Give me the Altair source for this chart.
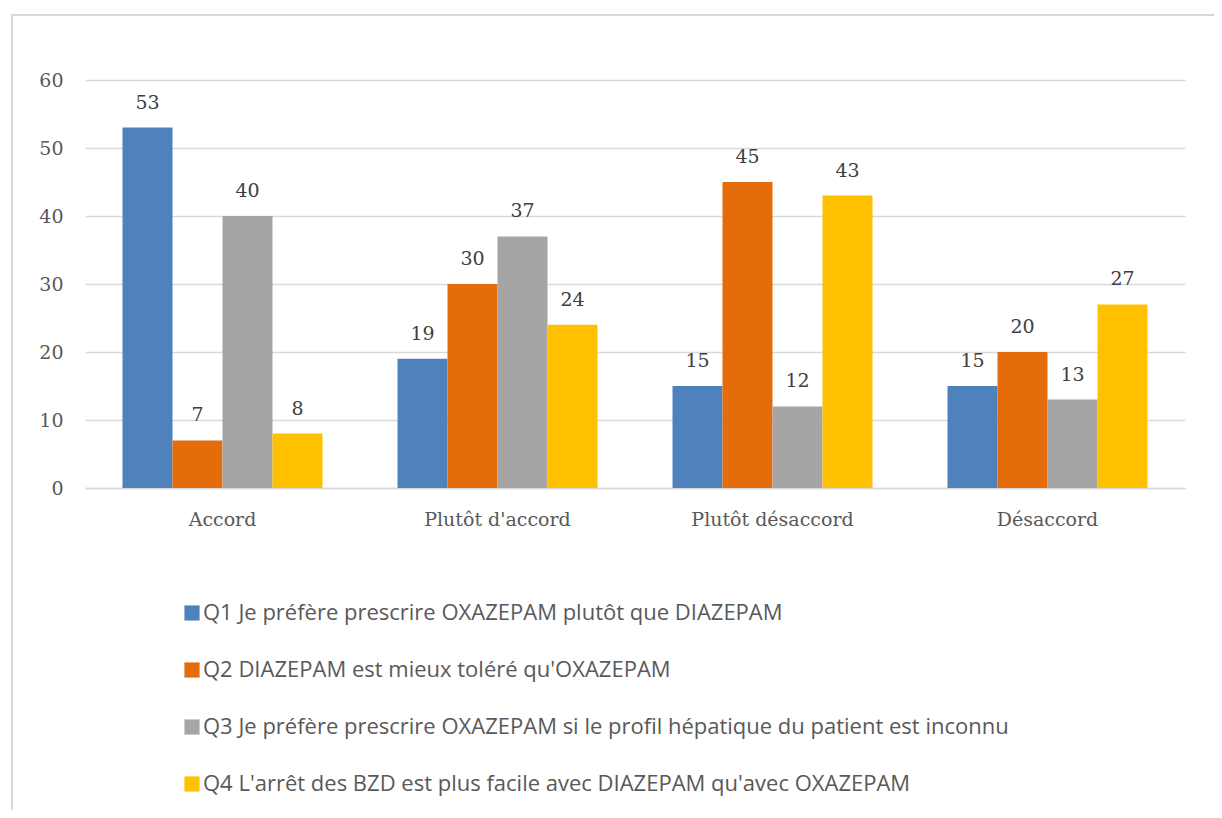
import altair as alt
import pandas as pd

categories = ["Accord", "Plutôt d'accord", "Plutôt désaccord", "Désaccord"]
series = [
    "Q1 Je préfère prescrire OXAZEPAM plutôt que DIAZEPAM",
    "Q2 DIAZEPAM est mieux toléré qu'OXAZEPAM",
    "Q3 Je préfère prescrire OXAZEPAM si le profil hépatique du patient est inconnu",
    "Q4 L'arrêt des BZD est plus facile avec DIAZEPAM qu'avec OXAZEPAM",
]
q1 = [53, 19, 15, 15]
q2 = [7, 30, 45, 20]
q3 = [40, 37, 12, 13]
q4 = [8, 24, 43, 27]
colors = ["#4f81bd", "#e46c0a", "#a5a5a5", "#ffc000"]

rows = []
for s, vals in zip(series, [q1, q2, q3, q4]):
    for c, v in zip(categories, vals):
        rows.append({"cat": c, "serie": s, "val": v})
df = pd.DataFrame(rows)

serif = "DejaVu Serif"
sans = "Open Sans"

x = alt.X("cat:N", sort=categories, title=None,
          scale=alt.Scale(paddingInner=0, paddingOuter=0),
          axis=alt.Axis(labelAngle=0, labelFont=serif, labelFontSize=19,
                        labelColor="#595959", labelPadding=22, ticks=False,
                        grid=False,
                        domainColor="#d9d9d9", domainWidth=1.5))
xo = alt.XOffset("serie:N", sort=series,
                 scale=alt.Scale(paddingInner=0, paddingOuter=0.75))
y = alt.Y("val:Q", title=None,
          scale=alt.Scale(domain=[0, 60]),
          axis=alt.Axis(values=[0, 10, 20, 30, 40, 50, 60], labelFont=serif,
                        labelFontSize=19, labelColor="#595959", labelPadding=22,
                        ticks=False, domain=False, gridColor="#d9d9d9",
                        gridWidth=1.5))

bars = alt.Chart(df).mark_bar().encode(
    x=x, xOffset=xo, y=y,
    color=alt.Color("serie:N", sort=series, title=None,
                    scale=alt.Scale(domain=series, range=colors),
                    legend=alt.Legend(orient="none", legendX=96, legendY=522,
                                      direction="vertical", symbolType="square",
                                      symbolSize=230, symbolStrokeWidth=0,
                                      labelFont=sans, labelFontSize=22,
                                      labelColor="#595959", rowPadding=35,
                                      labelLimit=1000, symbolOffset=0,
                                      labelOffset=0)),
)

labels = alt.Chart(df).mark_text(dy=-15, font=serif, fontSize=19,
                                 color="#404040", baseline="bottom").encode(
    x=x, xOffset=xo, y=y, text="val:Q"
)

border = alt.Chart(df).mark_rect(fill=None, stroke="#d9d9d9", strokeWidth=1.5).encode(
    x=alt.value(-73), x2=alt.value(1200), y=alt.value(-65), y2=alt.value(800)
)

chart = alt.layer(border, bars, labels).properties(
    width=1100, height=408,
    autosize=alt.AutoSizeParams(type="none"),
    padding={"left": 77, "top": 72, "right": 29, "bottom": 322},
).configure(background="white").configure_view(strokeWidth=0)

chart.save("out.html", embed_options={"renderer": "svg", "actions": False})
